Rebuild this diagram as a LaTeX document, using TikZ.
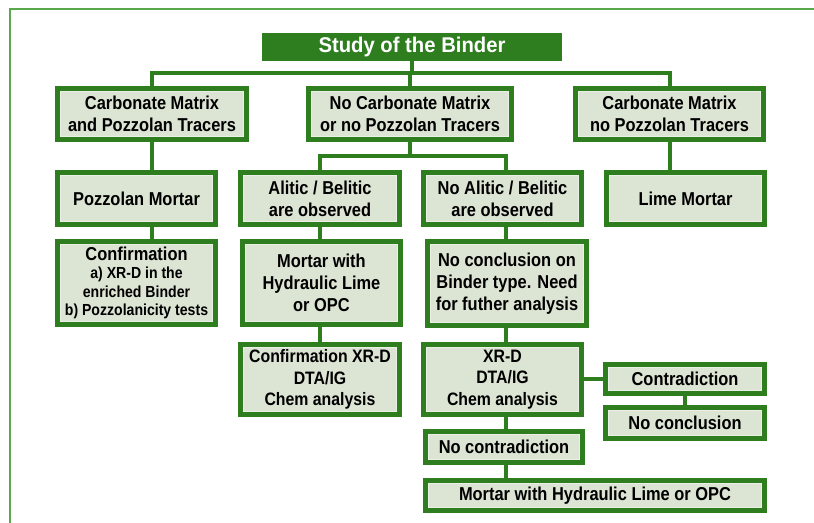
\documentclass[tikz,border=0pt]{standalone}
\usepackage{fontspec}
\newfontfamily\nfont{Liberation Sans}[FakeStretch=0.88]
\newfontfamily\tfont{Liberation Sans}[FakeStretch=0.95]
\definecolor{dg}{HTML}{2E7D1F}
\definecolor{bf}{HTML}{DCE5D4}
\definecolor{bfl}{HTML}{EAF0E5}
\definecolor{framec}{HTML}{5AA84C}
\newcommand{\smtx}{\fontsize{12}{14}\selectfont}
\newcommand{\mdtx}{\fontsize{13.5}{16}\selectfont}
\newcommand{\bxnode}[7][box]{\node[#1, minimum width={(#5-#3-5)*0.75pt}, minimum height={(#6-#4-5)*0.75pt}] (#2) at ({(#3+#5)/2},{(#4+#6)/2}) {#7};}
\tikzset{
  box/.style={draw=dg, line width=3.75pt, fill=bf, inner sep=0pt, align=center,
    font=\nfont\bfseries\fontsize{14}{16.5}\selectfont, text=black,
    path picture={\draw[draw=bfl, line width=0.8pt]
      ([xshift=2.3pt,yshift=-2.3pt]path picture bounding box.north west) rectangle
      ([xshift=-2.3pt,yshift=2.3pt]path picture bounding box.south east);}},
  titlebox/.style={draw=dg, line width=3.75pt, fill=dg, inner sep=0pt, align=center,
    font=\tfont\bfseries\fontsize{16}{18}\selectfont, text=white},
  conn/.style={draw=dg, line width=3pt},
}
\begin{document}
\begin{tikzpicture}[x=0.75pt, y=-0.75pt]
\useasboundingbox (0,0) rectangle (814,523);
\draw[framec, line width=1.5pt] (10,523) -- (10,9) -- (814,9);
\bxnode[titlebox]{title}{262}{33}{562}{61}{Study of the Binder}
\bxnode{A}{55}{86}{249}{142}{Carbonate Matrix\\and Pozzolan Tracers}
\bxnode{B}{306}{86}{514}{142}{No Carbonate Matrix\\or no Pozzolan Tracers}
\bxnode{C}{573}{86}{766}{142}{Carbonate Matrix\\no Pozzolan Tracers}
\bxnode{poz}{55}{170}{218}{227}{Pozzolan Mortar}
\bxnode{ali}{238}{170}{402}{227}{Alitic / Belitic\\are observed}
\bxnode{noali}{421}{170}{584}{227}{No Alitic / Belitic\\are observed}
\bxnode{lime}{604}{170}{767}{227}{Lime Mortar}
\bxnode{conf}{55}{239}{218}{327}{Confirmation\\[-3pt]\smtx a) XR-D in the\\[-2.5pt]\smtx enriched Binder\\[-2.5pt]\smtx b) Pozzolanicity tests}
\bxnode{mhl}{240}{239}{403}{327}{Mortar with\\Hydraulic Lime\\or OPC}
\bxnode{nocon}{425}{239}{589}{328}{No conclusion on\\Binder type. Need\\for futher analysis}
\bxnode{cxrd}{238}{342}{402}{417}{\mdtx Confirmation XR-D\\[-0.5pt]\mdtx DTA/IG\\[-0.5pt]\mdtx Chem analysis}
\bxnode{xrd}{421}{342}{584}{417}{\mdtx XR-D\\[-0.5pt]\mdtx DTA/IG\\[-0.5pt]\mdtx Chem analysis}
\bxnode{contra}{603}{362}{767}{396}{Contradiction}
\bxnode{noconc}{603}{405}{767}{441}{No conclusion}
\bxnode{nocontra}{423}{429}{585}{465}{No contradiction}
\bxnode{final}{423}{478}{767}{513}{Mortar with Hydraulic Lime or OPC}
\coordinate (h1) at (0,73);
\coordinate (h2) at (0,156);
\coordinate (v) at (506,0);
\draw[conn] (title.south) -- (title.south |- h1);
\draw[conn] (A.north) -- (A.north |- h1) -- (C.north |- h1) -- (C.north);
\draw[conn] (B.north) -- (B.north |- h1);
\draw[conn] (A.south) -- (A.south |- poz.north);
\draw[conn] (A.south |- poz.south) -- (A.south |- conf.north);
\draw[conn] (B.south) -- (B.south |- h2);
\draw[conn] (ali.north) -- (ali.north |- h2) -- (v |- h2) -- (v |- noali.north);
\draw[conn] (C.south) -- (C.south |- lime.north);
\draw[conn] (ali.south) -- (ali.south |- mhl.north);
\draw[conn] (ali.south |- mhl.south) -- (ali.south |- cxrd.north);
\draw[conn] (v |- noali.south) -- (v |- nocon.north);
\draw[conn] (v |- nocon.south) -- (v |- xrd.north);
\draw[conn] (v |- xrd.south) -- (v |- nocontra.north);
\draw[conn] (v |- nocontra.south) -- (v |- final.north);
\draw[conn] (xrd.east |- contra.west) -- (contra.west);
\draw[conn] (contra.south) -- (noconc.north);
\end{tikzpicture}
\end{document}
